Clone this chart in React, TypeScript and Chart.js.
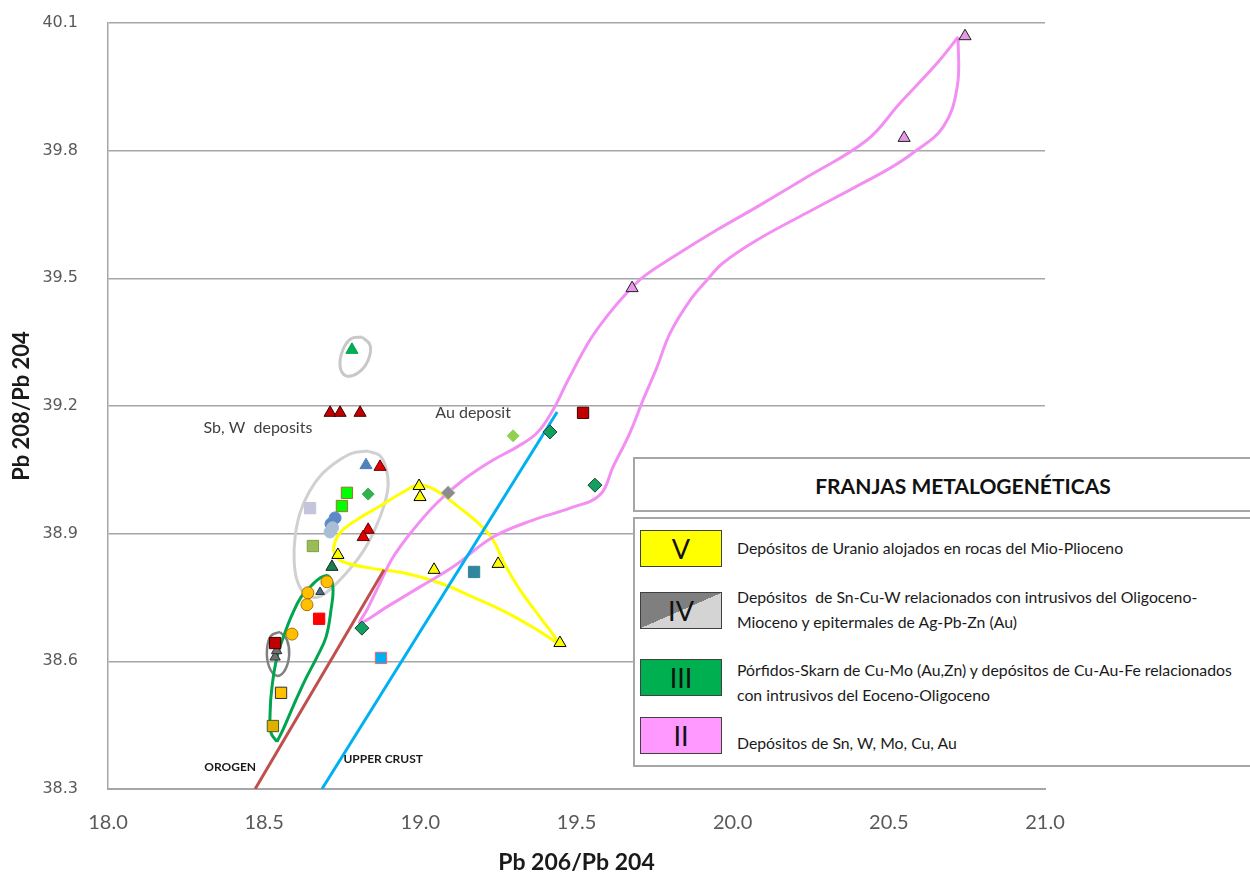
import React, { useEffect, useRef } from 'react';
import { Chart, registerables } from 'chart.js';

Chart.register(...registerables);

// ---------- axes ----------
const X_TICKS = [18.0, 18.5, 19.0, 19.5, 20.0, 20.5, 21.0];
const Y_TICKS = [38.3, 38.6, 38.9, 39.2, 39.5, 39.8, 40.1];
const X_TITLE = 'Pb 206/Pb 204';
const Y_TITLE = 'Pb 208/Pb 204';

// ---------- sample points (Pb206/Pb204, Pb208/Pb204) ----------
const greenTriX = [18.781];
const greenTriY = [39.332];
const darkRedTriX = [18.711, 18.743, 18.807];
const darkRedTriY = [39.184, 39.184, 39.184];
const darkRedSqX = [19.521, 18.535];
const darkRedSqY = [39.184, 38.643];
const limeDiamondX = [19.297];
const limeDiamondY = [39.13];
const darkGreenDiamondX = [19.415, 19.559, 18.813];
const darkGreenDiamondY = [39.139, 39.014, 38.678];
const blueTriX = [18.826];
const blueTriY = [39.061];
const redTriX = [18.871, 18.833, 18.817];
const redTriY = [39.057, 38.909, 38.892];
const greenSqX = [18.765, 18.749];
const greenSqY = [38.996, 38.965];
const greenDiamondX = [18.833];
const greenDiamondY = [38.993];
const lavenderSqX = [18.647];
const lavenderSqY = [38.96];
const blueCircleX = [18.727, 18.714];
const blueCircleY = [38.937, 38.923];
const paleBlueCircleX = [18.719, 18.711];
const paleBlueCircleY = [38.914, 38.904];
const oliveSqX = [18.656];
const oliveSqY = [38.871];
const yellowTriX = [18.996, 18.999, 18.736, 19.044, 19.249, 19.447];
const yellowTriY = [39.012, 38.986, 38.85, 38.815, 38.829, 38.643];
const grayDiamondX = [19.089];
const grayDiamondY = [38.996];
const tealSqX = [19.172];
const tealSqY = [38.81];
const skySqX = [18.874];
const skySqY = [38.608];
const forestTriX = [18.717];
const forestTriY = [38.822];
const orangeCircleX = [18.701, 18.64, 18.637, 18.589];
const orangeCircleY = [38.787, 38.761, 38.733, 38.664];
const smallTriX = [18.679];
const smallTriY = [38.763];
const redSqX = [18.676];
const redSqY = [38.7];
const grayTriX = [18.535, 18.54];
const grayTriY = [38.61, 38.625];
const orangeSqX = [18.554];
const orangeSqY = [38.526];
const amberSqX = [18.528];
const amberSqY = [38.448];
const pinkTriX = [20.744, 20.549, 19.678];
const pinkTriY = [40.069, 39.83, 39.477];

// ---------- reference growth lines ----------
const orogenX = [18.471, 18.884];
const orogenY = [38.3, 38.815];
const upperCrustX = [18.685, 19.438];
const upperCrustY = [38.3, 39.186];

// ---------- field envelopes (closed outlines) ----------
const pinkEnvX = [20.722, 20.655, 20.536, 20.43, 20.238, 20.078, 19.95, 19.809, 19.713, 19.655, 19.601, 19.543,
  19.473, 19.425, 19.374, 19.31, 19.233, 19.137, 19.053, 18.977, 18.913, 18.865, 18.829, 18.807,
  18.893, 18.999, 19.105, 19.233, 19.361, 19.479, 19.575, 19.617, 19.671, 19.713, 19.758, 19.8,
  19.864, 19.918, 19.969, 20.078, 20.238, 20.376, 20.504, 20.578, 20.674, 20.719];
const pinkEnvY = [40.067, 40.006, 39.912, 39.825, 39.738, 39.668, 39.614, 39.55, 39.503, 39.461, 39.414, 39.355,
  39.261, 39.191, 39.137, 39.104, 39.073, 39.026, 38.972, 38.909, 38.845, 38.775, 38.721, 38.69,
  38.728, 38.775, 38.822, 38.892, 38.932, 38.96, 38.991, 39.057, 39.137, 39.214, 39.292, 39.372,
  39.449, 39.496, 39.536, 39.59, 39.654, 39.708, 39.759, 39.795, 39.856, 39.95];

const yellowEnvX = [19.447, 19.374, 19.278, 19.169, 19.063, 18.945, 18.839, 18.752, 18.727, 18.724, 18.743,
  18.791, 18.871, 18.945, 18.993, 19.047, 19.127, 19.191, 19.233, 19.271, 19.319, 19.383, 19.431];
const yellowEnvY = [38.639, 38.674, 38.714, 38.751, 38.784, 38.808, 38.819, 38.834, 38.85, 38.873, 38.902,
  38.93, 38.965, 38.998, 39.014, 39.003, 38.96, 38.921, 38.885, 38.827, 38.768, 38.704, 38.657];

const greenEnvX = [18.541, 18.522, 18.519, 18.525, 18.541, 18.564, 18.589, 18.618, 18.65, 18.679, 18.704,
  18.72, 18.714, 18.698, 18.669, 18.631, 18.592, 18.56];
const greenEnvY = [38.411, 38.432, 38.479, 38.54, 38.61, 38.662, 38.709, 38.751, 38.777, 38.796, 38.801,
  38.775, 38.721, 38.657, 38.61, 38.556, 38.493, 38.439];

const grayBigEnvX = [18.833, 18.871, 18.89, 18.897, 18.884, 18.858, 18.82, 18.772, 18.72, 18.672, 18.631,
  18.605, 18.596, 18.599, 18.615, 18.644, 18.685, 18.736, 18.785];
const grayBigEnvY = [39.094, 39.083, 39.054, 39.014, 38.967, 38.916, 38.862, 38.815, 38.775, 38.751, 38.758,
  38.791, 38.838, 38.892, 38.949, 38.998, 39.04, 39.071, 39.09];

const grayTopEnvX = [18.813, 18.839, 18.833, 18.801, 18.762, 18.743, 18.752, 18.778];
const grayTopEnvY = [39.362, 39.343, 39.308, 39.278, 39.271, 39.294, 39.332, 39.358];

const graySmallEnvX = [18.551, 18.573, 18.58, 18.567, 18.541, 18.516, 18.509, 18.522];
const graySmallEnvY = [38.669, 38.65, 38.615, 38.58, 38.566, 38.587, 38.627, 38.66];

// ---------- annotations ----------
const ANNOT_TEXT = ['Sb, W  deposits', 'Au deposit', 'OROGEN', 'UPPER CRUST'];
const ANNOT_X = [18.48, 19.169, 18.391, 18.881];
const ANNOT_Y = [39.148, 39.184, 38.352, 38.371];

// ---------- legend ----------
const LEGEND_TITLE = 'FRANJAS METALOGENÉTICAS';
const LEGEND_NUMERALS = ['V', 'IV', 'III', 'II'];
const LEGEND_LABELS = [
  ['Depósitos de Uranio alojados en rocas del Mio-Plioceno'],
  ['Depósitos  de Sn-Cu-W relacionados con intrusivos del Oligoceno-', 'Mioceno y epitermales de Ag-Pb-Zn (Au)'],
  ['Pórfidos-Skarn de Cu-Mo (Au,Zn) y depósitos de Cu-Au-Fe relacionados', 'con intrusivos del Eoceno-Oligoceno'],
  ['Depósitos de Sn, W, Mo, Cu, Au'],
];

const zip = (xs: number[], ys: number[]) => xs.map((x, i) => ({ x, y: ys[i] }));
const closed = (xs: number[], ys: number[]) => [...zip(xs, ys), { x: xs[0], y: ys[0] }];

const annotPlugin = {
  id: 'annotTexts',
  afterDatasetsDraw(chart: any) {
    const { ctx, scales } = chart;
    const fonts = ['16px Lato', '16px Lato', 'bold 12px Lato', 'bold 12px Lato'];
    const colors = ['#404040', '#404040', '#1a1a1a', '#1a1a1a'];
    ctx.save();
    ctx.textAlign = 'center';
    ctx.textBaseline = 'middle';
    ANNOT_TEXT.forEach((t, i) => {
      ctx.font = fonts[i];
      ctx.fillStyle = colors[i];
      ctx.fillText(t, scales.x.getPixelForValue(ANNOT_X[i]), scales.y.getPixelForValue(ANNOT_Y[i]));
    });
    ctx.restore();
  },
};

export default function App() {
  const ref = useRef<HTMLCanvasElement>(null);

  useEffect(() => {
    const marker = (xs: number[], ys: number[], style: string, r: number, bg: string, bd: string, bw = 1) => ({
      data: zip(xs, ys),
      pointStyle: style,
      pointRadius: r,
      pointBackgroundColor: bg,
      pointBorderColor: bd,
      pointBorderWidth: bw,
      showLine: false,
      order: 0,
    });
    const outline = (data: any[], color: string, width: number, tension: number) => ({
      data,
      showLine: true,
      borderColor: color,
      borderWidth: width,
      pointRadius: 0,
      tension,
      fill: false,
      order: 2,
    });

    const datasets: any[] = [
      marker(greenTriX, greenTriY, 'triangle', 7, '#00b050', '#00a050'),
      marker(darkRedTriX, darkRedTriY, 'triangle', 7, '#c00000', '#400000'),
      marker(darkRedSqX, darkRedSqY, 'rect', 8, '#c00000', '#400000'),
      marker(limeDiamondX, limeDiamondY, 'rectRot', 6, '#92d050', '#92d050'),
      marker(darkGreenDiamondX, darkGreenDiamondY, 'rectRot', 7, '#10a060', '#204030'),
      marker(blueTriX, blueTriY, 'triangle', 7, '#4f81bd', '#4f81bd'),
      marker(redTriX, redTriY, 'triangle', 7, '#e00000', '#600000'),
      marker(greenSqX, greenSqY, 'rect', 8, '#00ff00', '#a07030'),
      marker(greenDiamondX, greenDiamondY, 'rectRot', 6, '#33b050', '#33b050'),
      marker(lavenderSqX, lavenderSqY, 'rect', 8, '#c4c4dc', '#c4c4dc'),
      marker(paleBlueCircleX, paleBlueCircleY, 'circle', 6, '#a9bfd6', '#a9bfd6'),
      marker(blueCircleX, blueCircleY, 'circle', 6, '#5a88c8', '#5a88c8'),
      marker(oliveSqX, oliveSqY, 'rect', 8, '#9bbb59', '#7f9f40'),
      marker(yellowTriX, yellowTriY, 'triangle', 7, '#ffff00', '#000000'),
      marker(grayDiamondX, grayDiamondY, 'rectRot', 7, '#8c8c8c', '#c0c0c0'),
      marker(tealSqX, tealSqY, 'rect', 8, '#31859c', '#31859c'),
      marker(skySqX, skySqY, 'rect', 8, '#00b0f0', '#ff6060'),
      marker(forestTriX, forestTriY, 'triangle', 7, '#1e7b4e', '#103020'),
      marker(orangeCircleX, orangeCircleY, 'circle', 6, '#ffc000', '#b07000'),
      marker(smallTriX, smallTriY, 'triangle', 5, '#3f6f8f', '#303030'),
      marker(redSqX, redSqY, 'rect', 8, '#ff0000', '#ff0000'),
      marker(grayTriX, grayTriY, 'triangle', 6, '#707070', '#303030'),
      marker(orangeSqX, orangeSqY, 'rect', 8, '#ffc000', '#303030'),
      marker(amberSqX, amberSqY, 'rect', 8, '#e0b000', '#406020'),
      marker(pinkTriX, pinkTriY, 'triangle', 7, '#e698e6', '#202020'),
      outline(zip(orogenX, orogenY), '#c0504d', 3, 0),
      outline(zip(upperCrustX, upperCrustY), '#00b0f0', 3, 0),
      outline(closed(pinkEnvX, pinkEnvY), '#f38ef3', 3, 0.4),
      outline(closed(yellowEnvX, yellowEnvY), '#ffff00', 3, 0.4),
      outline(closed(greenEnvX, greenEnvY), '#00a550', 3, 0.4),
      outline(closed(grayBigEnvX, grayBigEnvY), '#d0d0d0', 3, 0.4),
      outline(closed(grayTopEnvX, grayTopEnvY), '#c8c8c8', 3, 0.4),
      outline(closed(graySmallEnvX, graySmallEnvY), '#808080', 2.5, 0.4),
    ];

    const chart = new Chart(ref.current as HTMLCanvasElement, {
      type: 'scatter',
      data: { datasets },
      options: {
        animation: false,
        responsive: true,
        maintainAspectRatio: false,
        layout: { autoPadding: false, padding: { left: 0, right: 205, top: 23, bottom: 0 } },
        plugins: { legend: { display: false }, tooltip: { enabled: false } },
        scales: {
          x: {
            type: 'linear',
            min: X_TICKS[0],
            max: X_TICKS[X_TICKS.length - 1],
            afterBuildTicks: (s: any) => { s.ticks = X_TICKS.map((v) => ({ value: v })); },
            afterFit: (s: any) => { s.height = 90; s.paddingLeft = 0; s.paddingRight = 0; },
            grid: { display: false, drawTicks: false },
            border: { display: true, color: '#a6a6a6', width: 2 },
            ticks: {
              autoSkip: false,
              maxRotation: 0,
              padding: 22,
              color: '#595959',
              font: { family: 'Lato', size: 20 },
              callback: (v: any) => Number(v).toFixed(1),
            },
            title: {
              display: true,
              text: X_TITLE,
              color: '#1a1a1a',
              font: { family: 'Lato', size: 23, weight: 'bold' },
              padding: { top: 0, bottom: 3 },
            },
          },
          y: {
            type: 'linear',
            min: Y_TICKS[0],
            max: Y_TICKS[Y_TICKS.length - 1],
            afterBuildTicks: (s: any) => { s.ticks = Y_TICKS.map((v) => ({ value: v })); },
            afterFit: (s: any) => { s.width = 108; s.paddingTop = 0; s.paddingBottom = 0; },
            grid: { display: true, drawTicks: false, color: '#a6a6a6', lineWidth: 1.5 },
            border: { display: true, color: '#a6a6a6', width: 1.5 },
            ticks: {
              padding: 30,
              color: '#595959',
              font: { family: 'DejaVu Sans', size: 16 },
              callback: (v: any) => Number(v).toFixed(1),
            },
            title: {
              display: true,
              text: Y_TITLE,
              color: '#1a1a1a',
              font: { family: 'Lato', size: 22, weight: 'bold' },
              padding: { top: 9, bottom: 0 },
            },
          },
        },
      } as any,
      plugins: [annotPlugin],
    });
    return () => chart.destroy();
  }, []);

  const swatchTops = [530, 592, 659, 717];
  const textTops = [548, 597, 670, 743];
  const swatchBg = [
    '#ffff00',
    'linear-gradient(to bottom right, #7f7f7f 50%, #d4d4d4 50%)',
    '#00b050',
    '#ff99ff',
  ];

  return (
    <div style={{ position: 'absolute', left: 0, top: 0, width: 1250, height: 879, overflow: 'hidden', background: '#ffffff' }}>
      <canvas ref={ref} />
      <div style={{
        position: 'absolute', left: 633, top: 457, width: 660, height: 55,
        border: '2px solid #a6a6a6', background: '#fff', boxSizing: 'border-box',
      }} />
      <div style={{
        position: 'absolute', left: 633, top: 471, width: 660, textAlign: 'center',
        fontFamily: 'Lato', fontWeight: 'bold', fontSize: 21, color: '#111', lineHeight: '30px',
      }}>{LEGEND_TITLE}</div>
      <div style={{
        position: 'absolute', left: 633, top: 517, width: 660, height: 250,
        border: '2px solid #a6a6a6', background: '#fff', boxSizing: 'border-box',
      }} />
      {LEGEND_NUMERALS.map((n, i) => (
        <div key={n} style={{
          position: 'absolute', left: 640, top: swatchTops[i], width: 82, height: 37,
          background: swatchBg[i], border: '1px solid #404040', boxSizing: 'border-box',
          display: 'flex', alignItems: 'center', justifyContent: 'center',
          fontFamily: 'Lato', fontSize: 27, color: '#111',
        }}>{n}</div>
      ))}
      {LEGEND_LABELS.map((lines, i) =>
        lines.map((t, j) => (
          <div key={`${i}-${j}`} style={{
            position: 'absolute', left: 737, top: textTops[i] + j * 25 - 11, height: 22,
            lineHeight: '22px', fontFamily: 'Lato', fontSize: 15.8, color: '#1a1a1a', whiteSpace: 'pre',
          }}>{t}</div>
        ))
      )}
    </div>
  );
}
